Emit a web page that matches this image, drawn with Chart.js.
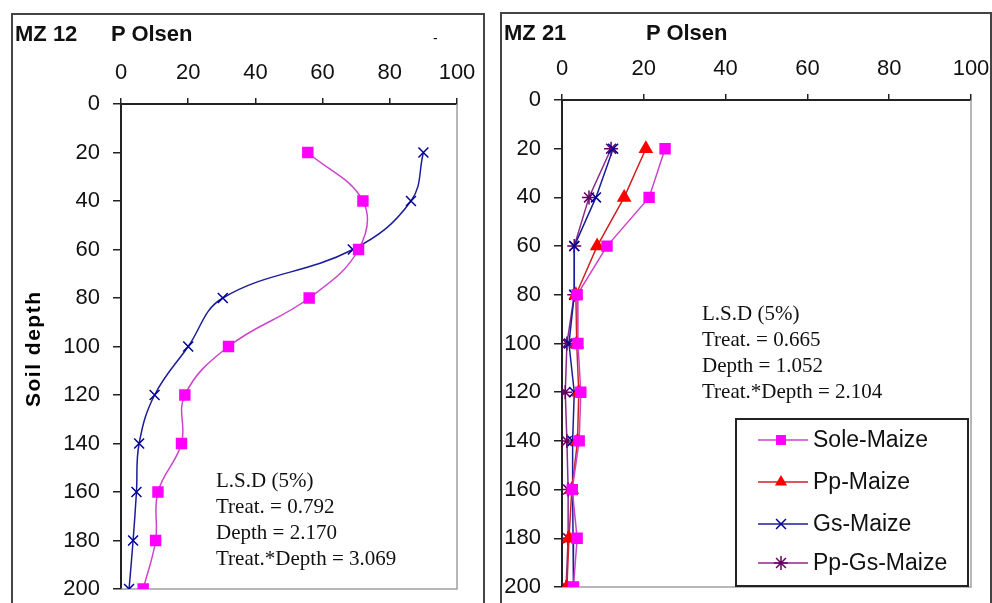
<!DOCTYPE html>
<html>
<head>
<meta charset="utf-8">
<script src="https://cdn.jsdelivr.net/npm/chart.js@4.4.1/dist/chart.umd.min.js"></script>
<style>
  html, body { margin: 0; padding: 0; background: #fff; }
  body { width: 992px; height: 603px; position: relative; overflow: hidden; font-family: Arial, "Liberation Sans", sans-serif; }
  .panel { position: absolute; border: 2px solid #444; pointer-events: none; z-index: 2; }
  canvas { position: absolute; }
  .title { position: absolute; font-weight: bold; font-size: 22px; color: #111; white-space: nowrap; }
  .lsd { position: absolute; font-family: "Liberation Serif", "Times New Roman", serif; font-size: 21px; line-height: 26px; color: #111; white-space: nowrap; }
  .ylab { position: absolute; font-weight: bold; font-size: 21px; letter-spacing: 1.5px; transform: rotate(-90deg); transform-origin: center; white-space: nowrap; }
</style>
</head>
<body>
<canvas id="mz12" width="472" height="589" style="left:12px;top:14px"></canvas>
<canvas id="mz21" width="491" height="590" style="left:501px;top:13px"></canvas>

<div class="panel" style="left:11px;top:13px;width:470px;height:600px"></div>
<div class="panel" style="left:500px;top:12px;width:488px;height:600px"></div>

<div class="title" style="left:15px;top:21px">MZ 12</div>
<div class="title" style="left:111px;top:21px">P Olsen</div>
<div class="title" style="left:433px;top:30px;font-size:14px;font-weight:normal">-</div>
<div class="title" style="left:504px;top:20px">MZ 21</div>
<div class="title" style="left:646px;top:20px">P Olsen</div>

<div class="ylab" style="left:-22px;top:340px;width:110px;text-align:center">Soil depth</div>

<div class="lsd" style="left:216px;top:467px">L.S.D (5%)<br>Treat. = 0.792<br>Depth = 2.170<br>Treat.*Depth = 3.069</div>
<div class="lsd" style="left:702px;top:300px">L.S.D (5%)<br>Treat. = 0.665<br>Depth = 1.052<br>Treat.*Depth = 2.104</div>

<script>
// --- DATA ---
const depths = [20, 40, 60, 80, 100, 120, 140, 160, 180, 200];
const xTicks = [0, 20, 40, 60, 80, 100];
const yTicks = [0, 20, 40, 60, 80, 100, 120, 140, 160, 180, 200];

// MZ 12
const mz12Sole = [55.6, 72, 70.7, 56, 32, 19, 18, 11, 10.3, 6.6];
const mz12Gs = [90, 86.3, 69, 30.3, 20, 10, 5.4, 4.6, 3.6, 2.4];

// MZ 21
const mz21Sole = [25.2, 21.3, 11, 3.7, 3.9, 4.6, 4.2, 2.5, 3.7, 2.8];
const mz21Pp = [20.5, 15.2, 8.6, 3.4, 3.6, 4.1, 3.8, 2.4, 1.7, 1.2];
const mz21Gs = [12.5, 8.3, 3, 3, 1.7, 3, 2.6, 2.6, 2.7, 2.8];
const mz21PpGs = [12, 6.6, 3, 3, 1.2, 0.8, 1.2, 1.5, 1.5, 1];

const seriesNames = ['Sole-Maize', 'Pp-Maize', 'Gs-Maize', 'Pp-Gs-Maize'];

// --- HELPERS ---
function toPoints(values) {
    return values.map((v, i) => ({ x: v, y: depths[i] }));
}

// marker styles per series
const styles = {
    'Sole-Maize': { line: '#cc44cc', point: '#ff00ff', shape: 'rect', r: 7 },
    'Pp-Maize': { line: '#cc2222', point: '#ff0000', shape: 'triangle', r: 7 },
    'Gs-Maize': { line: '#1c1c99', point: '#000099', shape: 'crossRot', r: 7 },
    'Pp-Gs-Maize': { line: '#8a2a8a', point: '#660066', shape: 'star', r: 7 }
};

function makeDataset(name, values, tension) {
    const s = styles[name];
    return {
        label: name,
        data: toPoints(values),
        borderColor: s.line,
        borderWidth: 1.5,
        pointStyle: s.shape,
        pointRadius: s.r,
        pointBackgroundColor: s.point,
        pointBorderColor: s.point,
        pointBorderWidth: 1.5,
        tension: tension,
        fill: false
    };
}

// grey right/bottom frame of plot area
const frame = {
    id: 'frame',
    beforeDatasetsDraw(chart) {
        const a = chart.chartArea, ctx = chart.ctx;
        ctx.save();
        ctx.strokeStyle = '#a0a0a0';
        ctx.lineWidth = 1.5;
        ctx.beginPath();
        ctx.moveTo(a.left, a.bottom);
        ctx.lineTo(a.right, a.bottom);
        ctx.lineTo(a.right, a.top);
        ctx.stroke();
        ctx.restore();
    }
};

function drawMarker(ctx, shape, x, y, r) {
    ctx.beginPath();
    if (shape === 'rect') {
        const h = r * Math.SQRT1_2;
        ctx.fillRect(x - h, y - h, 2 * h, 2 * h);
        return;
    }
    if (shape === 'triangle') {
        ctx.moveTo(x, y - r);
        ctx.lineTo(x + r * 0.87, y + r * 0.5);
        ctx.lineTo(x - r * 0.87, y + r * 0.5);
        ctx.closePath();
        ctx.fill();
        return;
    }
    const d = r * Math.SQRT1_2;
    ctx.moveTo(x - d, y - d); ctx.lineTo(x + d, y + d);
    ctx.moveTo(x - d, y + d); ctx.lineTo(x + d, y - d);
    if (shape === 'star') {
        ctx.moveTo(x, y - r); ctx.lineTo(x, y + r);
        ctx.moveTo(x - r, y); ctx.lineTo(x + r, y);
    }
    ctx.stroke();
}

// boxed legend inside the MZ 21 plot
const boxLegend = {
    id: 'boxLegend',
    afterDraw(chart) {
        const ctx = chart.ctx;
        const bx = 235, by = 406, bw = 232, bh = 167;
        ctx.save();
        ctx.fillStyle = '#fff';
        ctx.fillRect(bx, by, bw, bh);
        ctx.strokeStyle = '#222';
        ctx.lineWidth = 2;
        ctx.strokeRect(bx, by, bw, bh);
        const rows = [427, 469, 511, 550];
        ctx.font = '23px Arial';
        ctx.textBaseline = 'middle';
        chart.data.datasets.forEach((ds, i) => {
            const s = styles[ds.label];
            const y = rows[i];
            ctx.strokeStyle = s.line;
            ctx.lineWidth = 1.5;
            ctx.beginPath();
            ctx.moveTo(257, y); ctx.lineTo(307, y);
            ctx.stroke();
            ctx.fillStyle = s.point;
            ctx.strokeStyle = s.point;
            drawMarker(ctx, s.shape, 280, y, s.r);
            ctx.fillStyle = '#111';
            ctx.fillText(ds.label, 312, y + 1);
        });
        ctx.restore();
    }
};

function scaleOptions(yWidth, xHeight) {
    const tickFont = { family: 'Arial', size: 22 };
    return {
        x: {
            type: 'linear',
            position: 'top',
            min: 0,
            max: 100,
            afterBuildTicks: s => { s.ticks = xTicks.map(v => ({ value: v })); },
            afterFit: s => { s.height = xHeight; s.paddingLeft = 0; s.paddingRight = 0; },
            ticks: { font: tickFont, color: '#111', padding: 12, maxRotation: 0 },
            grid: { drawOnChartArea: false, tickLength: 6, color: '#222', lineWidth: 1.5 },
            border: { display: true, color: '#222', width: 2 }
        },
        y: {
            type: 'linear',
            reverse: true,
            min: 0,
            max: 200,
            afterBuildTicks: s => { s.ticks = yTicks.map(v => ({ value: v })); },
            afterFit: s => { s.width = yWidth; s.paddingTop = 0; s.paddingBottom = 0; },
            ticks: { font: tickFont, color: '#111', padding: 13 },
            grid: { drawOnChartArea: false, tickLength: 8, color: '#222', lineWidth: 1.5 },
            border: { display: true, color: '#222', width: 2 }
        }
    };
}

// --- CHARTS ---

// 1. MZ 12 (smoothed lines)
new Chart(document.getElementById('mz12').getContext('2d'), {
    type: 'line',
    data: {
        datasets: [
            makeDataset('Sole-Maize', mz12Sole, 0.4),
            makeDataset('Gs-Maize', mz12Gs, 0.4)
        ]
    },
    options: {
        responsive: false,
        animation: false,
        layout: { padding: { left: 0, top: 0, right: 27, bottom: 14 } },
        scales: scaleOptions(109, 90),
        plugins: { legend: { display: false }, tooltip: { enabled: false } }
    },
    plugins: [frame]
});

// 2. MZ 21 (straight lines)
new Chart(document.getElementById('mz21').getContext('2d'), {
    type: 'line',
    data: {
        datasets: [
            makeDataset(seriesNames[0], mz21Sole, 0),
            makeDataset(seriesNames[1], mz21Pp, 0),
            makeDataset(seriesNames[2], mz21Gs, 0),
            makeDataset(seriesNames[3], mz21PpGs, 0)
        ]
    },
    options: {
        responsive: false,
        animation: false,
        layout: { padding: { left: 0, top: 0, right: 21, bottom: 16 } },
        scales: scaleOptions(61, 87),
        plugins: { legend: { display: false }, tooltip: { enabled: false } }
    },
    plugins: [frame, boxLegend]
});
</script>
</body>
</html>
